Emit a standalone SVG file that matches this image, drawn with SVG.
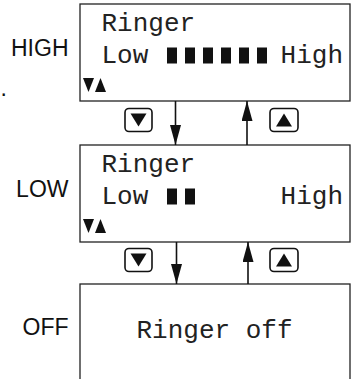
<svg xmlns="http://www.w3.org/2000/svg" width="352" height="379" viewBox="0 0 352 379">
<style>
.box{fill:#fff;stroke:#222;stroke-width:1.3}
.lcd{font-family:"Liberation Mono","Courier New",monospace;font-size:26px;fill:#222}
.lbl{font-family:"Liberation Sans",Arial,sans-serif;font-size:23px;fill:#111}
.bar{fill:#111}
.tri{fill:#111}
.btn{fill:#fff;stroke:#111;stroke-width:1.6}
.conn{stroke:#111;stroke-width:1.6;fill:none}
</style>
<defs>
<marker id="ah" markerUnits="userSpaceOnUse" markerWidth="20" markerHeight="11" refX="20" refY="5.5" orient="auto">
<path d="M0,0 L20,5.5 L0,11 z" fill="#111"/>
</marker>
</defs>
<rect width="352" height="379" fill="#fff"/>
<text class="lbl" x="0.5" y="96">.</text>
<g id="high">
<text class="lbl" x="68.5" y="56" text-anchor="end">HIGH</text>
<rect class="box" x="80" y="4" width="270" height="97"/>
<text class="lcd" x="101.5" y="31">Ringer</text>
<text class="lcd" x="101.5" y="63">Low</text>
<rect class="bar" x="167" y="47.5" width="10" height="16"/>
<rect class="bar" x="185" y="47.5" width="10" height="16"/>
<rect class="bar" x="203" y="47.5" width="10" height="16"/>
<rect class="bar" x="221" y="47.5" width="10" height="16"/>
<rect class="bar" x="239" y="47.5" width="10" height="16"/>
<rect class="bar" x="257" y="47.5" width="10" height="16"/>
<text class="lcd" x="343" y="63" text-anchor="end">High</text>
<polygon class="tri" points="83,78 94,78 88.5,92"/>
<polygon class="tri" points="95,92 106,92 100.5,78"/>
</g>
<g id="low">
<text class="lbl" x="68.5" y="197" text-anchor="end">LOW</text>
<rect class="box" x="80" y="145" width="270" height="97"/>
<text class="lcd" x="101.5" y="172">Ringer</text>
<text class="lcd" x="101.5" y="204">Low</text>
<rect class="bar" x="167" y="188.5" width="10" height="16"/>
<rect class="bar" x="185" y="188.5" width="10" height="16"/>
<text class="lcd" x="343" y="204" text-anchor="end">High</text>
<polygon class="tri" points="83,219 94,219 88.5,233"/>
<polygon class="tri" points="95,233 106,233 100.5,219"/>
</g>
<g id="off">
<text class="lbl" x="68.5" y="335" text-anchor="end">OFF</text>
<rect class="box" x="80" y="284" width="270" height="110"/>
<text class="lcd" x="136.5" y="338">Ringer off</text>
</g>
<g id="btn-down-1">
<rect class="btn" x="125" y="108.5" width="27" height="23" rx="4"/>
<polygon class="tri" points="130.5,113.5 146.5,113.5 138.5,126.5"/>
</g>
<g id="btn-up-1">
<rect class="btn" x="270" y="108.5" width="28" height="23" rx="4"/>
<polygon class="tri" points="276,126.5 292,126.5 284,113.5"/>
</g>
<g id="btn-down-2">
<rect class="btn" x="125" y="248.5" width="27" height="23" rx="4"/>
<polygon class="tri" points="130.5,253.5 146.5,253.5 138.5,266.5"/>
</g>
<g id="btn-up-2">
<rect class="btn" x="270" y="248.5" width="28" height="23" rx="4"/>
<polygon class="tri" points="276,266.5 292,266.5 284,253.5"/>
</g>
<g id="connectors">
<line class="conn" x1="175.5" y1="101" x2="175.5" y2="145" marker-end="url(#ah)"/>
<line class="conn" x1="247" y1="145" x2="247" y2="101" marker-end="url(#ah)"/>
<line class="conn" x1="176.5" y1="242" x2="176.5" y2="284" marker-end="url(#ah)"/>
<line class="conn" x1="248" y1="284" x2="248" y2="242" marker-end="url(#ah)"/>
</g>
</svg>
